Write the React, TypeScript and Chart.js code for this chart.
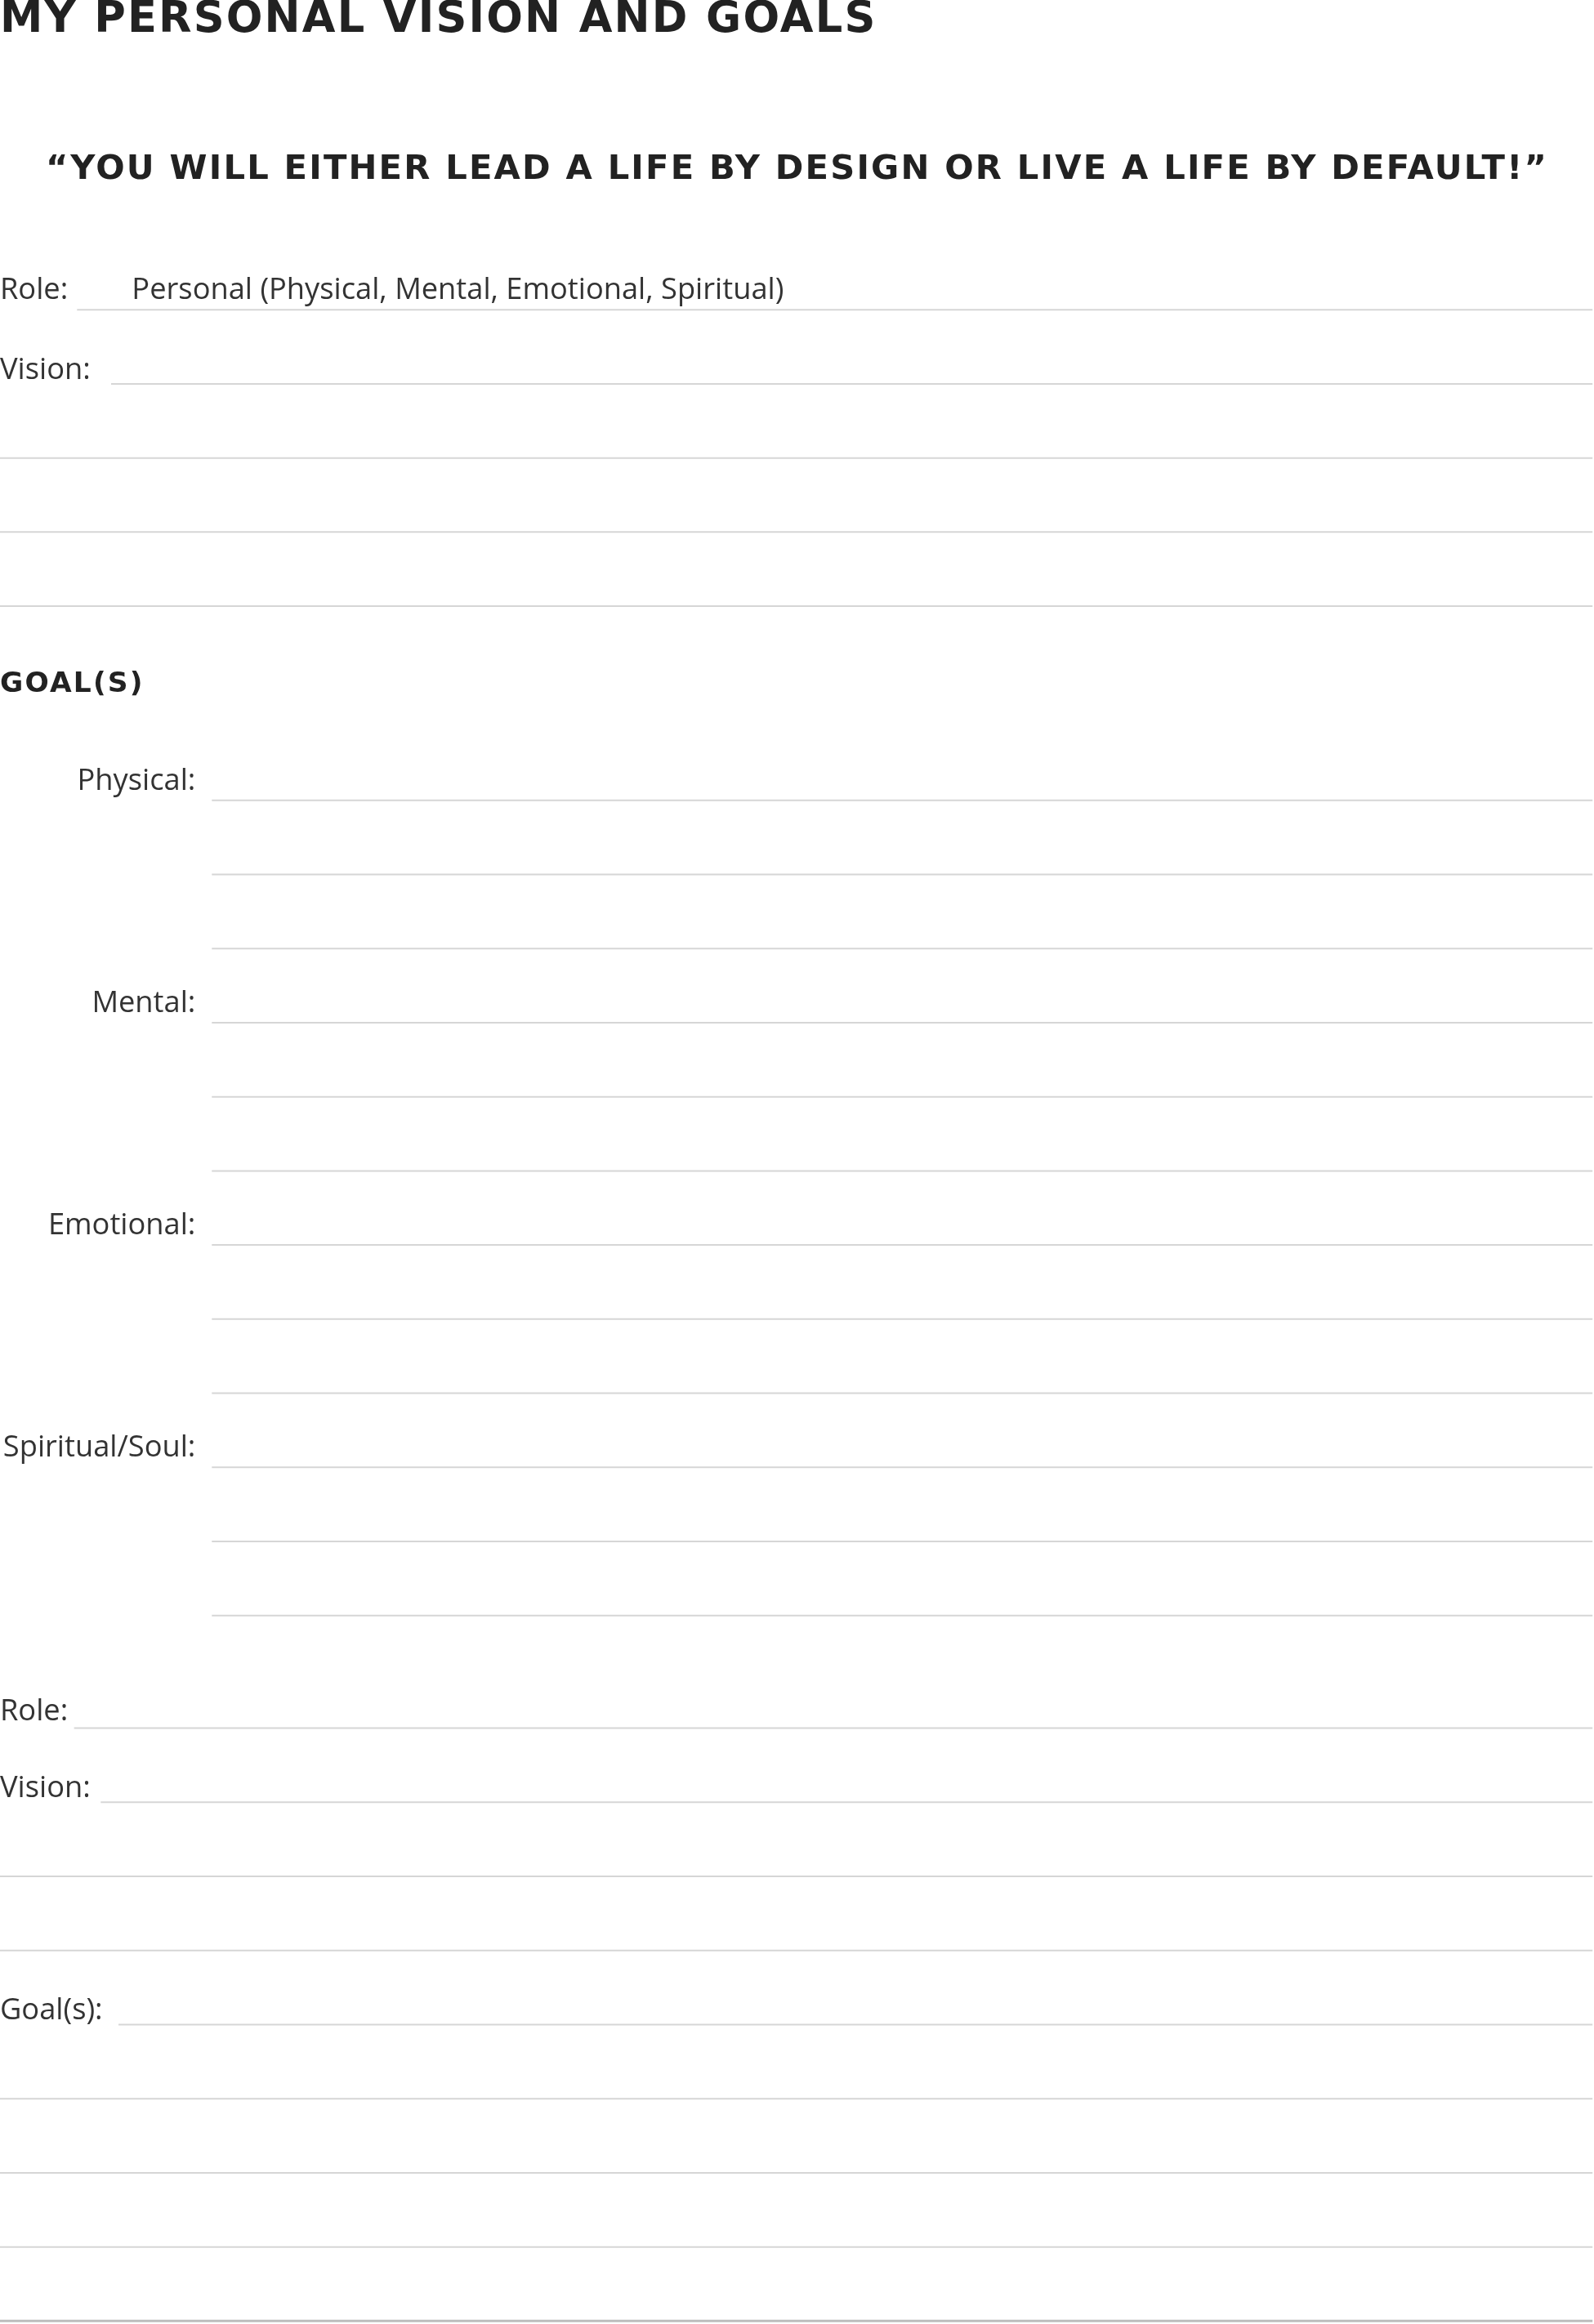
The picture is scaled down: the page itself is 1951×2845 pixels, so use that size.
import React, { useEffect, useRef } from 'react';
import Chart from 'chart.js/auto';

// page units follow the reference at 1076 x 1568 (scaled onto 1951 x 2845)
const PAGE_W = 1076;
const PAGE_H = 1568;
const RIGHT_END = 1075;

const ruleY = [209, 259, 309, 359, 409, 540, 590, 640, 690, 740, 790, 840, 890, 940, 990, 1040, 1090, 1166, 1216, 1266, 1316, 1366, 1416, 1466, 1516, 1566];
const ruleStart = [52, 75, 0, 0, 0, 143, 143, 143, 143, 143, 143, 143, 143, 143, 143, 143, 143, 50, 68, 0, 0, 80, 0, 0, 0, 0];

const labelText = ['Role:', 'Personal (Physical, Mental, Emotional, Spiritual)', 'Vision:', 'Physical:', 'Mental:', 'Emotional:', 'Spiritual/Soul:', 'Role:', 'Vision:', 'Goal(s):'];
const labelX = [0, 89, 0, 132, 132, 132, 132, 0, 0, 0];
const labelY = [196, 196, 250, 527, 677, 827, 977, 1155, 1207, 1357];
const labelAlign = ['left', 'left', 'left', 'right', 'right', 'right', 'right', 'left', 'left', 'left'];

const headingText = ['MY PERSONAL VISION AND GOALS', '“YOU WILL EITHER LEAD A LIFE BY DESIGN OR LIVE A LIFE BY DEFAULT!”', 'GOAL(S)'];
const headingX = [0, 538, 0];
const headingY = [14, 115, 462];
const headingSize = [29, 23, 19];
const headingAlign = ['left', 'center', 'left'];

const textPlugin = {
  id: 'worksheetText',
  afterDraw(chart: any) {
    const { ctx, scales } = chart;
    const k = chart.width / PAGE_W;
    ctx.save();
    ctx.fillStyle = '#222';
    ctx.textBaseline = 'middle';
    headingText.forEach((t, i) => {
      ctx.font = `800 ${headingSize[i] * k}px "DejaVu Sans", Lato, sans-serif`;
      (ctx as any).letterSpacing = `${1.2 * k}px`;
      ctx.textAlign = headingAlign[i];
      ctx.fillText(t, scales.x.getPixelForValue(headingX[i]), scales.y.getPixelForValue(headingY[i]));
    });
    (ctx as any).letterSpacing = '0px';
    ctx.fillStyle = '#333';
    ctx.font = `${20 * k}px "Open Sans", "Noto Sans", sans-serif`;
    labelText.forEach((t, i) => {
      ctx.textAlign = labelAlign[i];
      ctx.fillText(t, scales.x.getPixelForValue(labelX[i]), scales.y.getPixelForValue(labelY[i]));
    });
    ctx.restore();
  },
};

const App: React.FC = () => {
  const canvasRef = useRef<HTMLCanvasElement | null>(null);

  useEffect(() => {
    document.body.style.margin = '0';
    const ctx = canvasRef.current?.getContext('2d');
    if (!ctx) return;

    const datasets = ruleY.map((y, i) => ({
      data: [{ x: ruleStart[i], y }, { x: RIGHT_END, y }],
      showLine: true,
      borderColor: i === ruleY.length - 1 ? '#bdbdbd' : '#d6d6d6',
      borderWidth: i === ruleY.length - 1 ? 3 : 2,
      pointRadius: 0,
    }));

    const chart = new Chart(ctx, {
      type: 'scatter',
      data: { datasets },
      options: {
        animation: false,
        responsive: false,
        devicePixelRatio: 1,
        layout: { padding: 0 },
        plugins: { legend: { display: false }, tooltip: { enabled: false } },
        scales: {
          x: { type: 'linear', min: 0, max: PAGE_W, display: false },
          y: { type: 'linear', min: 0, max: PAGE_H, reverse: true, display: false },
        },
      },
      plugins: [textPlugin],
    });

    return () => chart.destroy();
  }, []);

  return (
    <div style={{ width: 1951, height: 2845, background: '#fff' }}>
      <canvas ref={canvasRef} width={1951} height={2845} />
    </div>
  );
};

export default App;
